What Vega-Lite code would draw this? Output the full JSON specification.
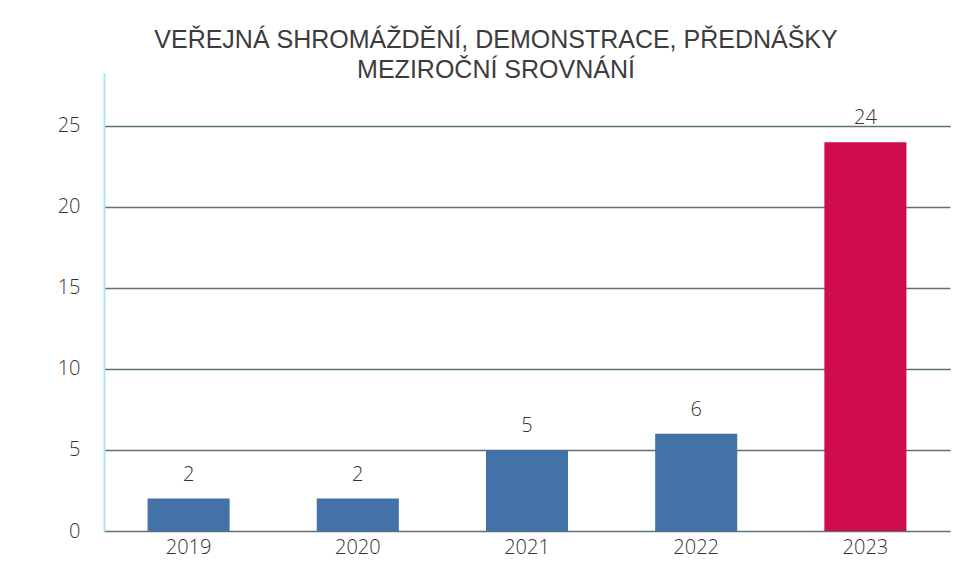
{
  "$schema": "https://vega.github.io/schema/vega-lite/v6.json",
  "width": 846,
  "height": 458,
  "autosize": {"type": "none"},
  "padding": {"left": 104, "top": 73, "right": 30, "bottom": 56},
  "background": "white",
  "title": {
    "text": ["VEŘEJNÁ SHROMÁŽDĚNÍ, DEMONSTRACE, PŘEDNÁŠKY", "MEZIROČNÍ SROVNÁNÍ"],
    "anchor": "middle",
    "frame": "group",
    "dx": -31,
    "offset": -10,
    "font": "Liberation Sans",
    "fontWeight": "normal",
    "fontSize": 25,
    "lineHeight": 30,
    "color": "#3c3c3c"
  },
  "data": {
    "values": [
      {"rok": "2019", "pocet": 2, "barva": "b"},
      {"rok": "2020", "pocet": 2, "barva": "b"},
      {"rok": "2021", "pocet": 5, "barva": "b"},
      {"rok": "2022", "pocet": 6, "barva": "b"},
      {"rok": "2023", "pocet": 24, "barva": "r"}
    ]
  },
  "config": {
    "view": {"stroke": null},
    "font": "Open Sans"
  },
  "encoding": {
    "x": {
      "field": "rok",
      "type": "nominal",
      "scale": {"paddingInner": 0.515, "paddingOuter": 0.2575},
      "axis": {
        "title": null,
        "labelAngle": 0,
        "domain": false,
        "ticks": false,
        "labelPadding": 6,
        "labelFontSize": 20,
        "labelFontWeight": 300,
        "labelColor": "#333333",
        "labelFont": "Open Sans"
      }
    },
    "y": {
      "field": "pocet",
      "type": "quantitative",
      "scale": {"domain": [0, 28.27], "nice": false},
      "axis": {
        "title": null,
        "values": [0, 5, 10, 15, 20, 25],
        "ticks": false,
        "domain": true,
        "domainColor": "#aee3f2",
        "domainWidth": 2,
        "grid": true,
        "gridColor": "#5b7078",
        "gridWidth": 1.5,
        "labelPadding": 24,
        "labelFontSize": 20,
        "labelFontWeight": 300,
        "labelColor": "#333333",
        "labelFont": "Open Sans"
      }
    }
  },
  "layer": [
    {
      "mark": {"type": "bar"},
      "encoding": {
        "color": {
          "field": "barva",
          "type": "nominal",
          "scale": {"domain": ["b", "r"], "range": ["#4272a8", "#d00d4c"]},
          "legend": null
        }
      }
    },
    {
      "mark": {"type": "text", "baseline": "alphabetic", "dy": -18, "fontSize": 20, "fontWeight": 300, "color": "#333333", "font": "Open Sans"},
      "encoding": {"text": {"field": "pocet", "type": "quantitative"}}
    }
  ]
}
